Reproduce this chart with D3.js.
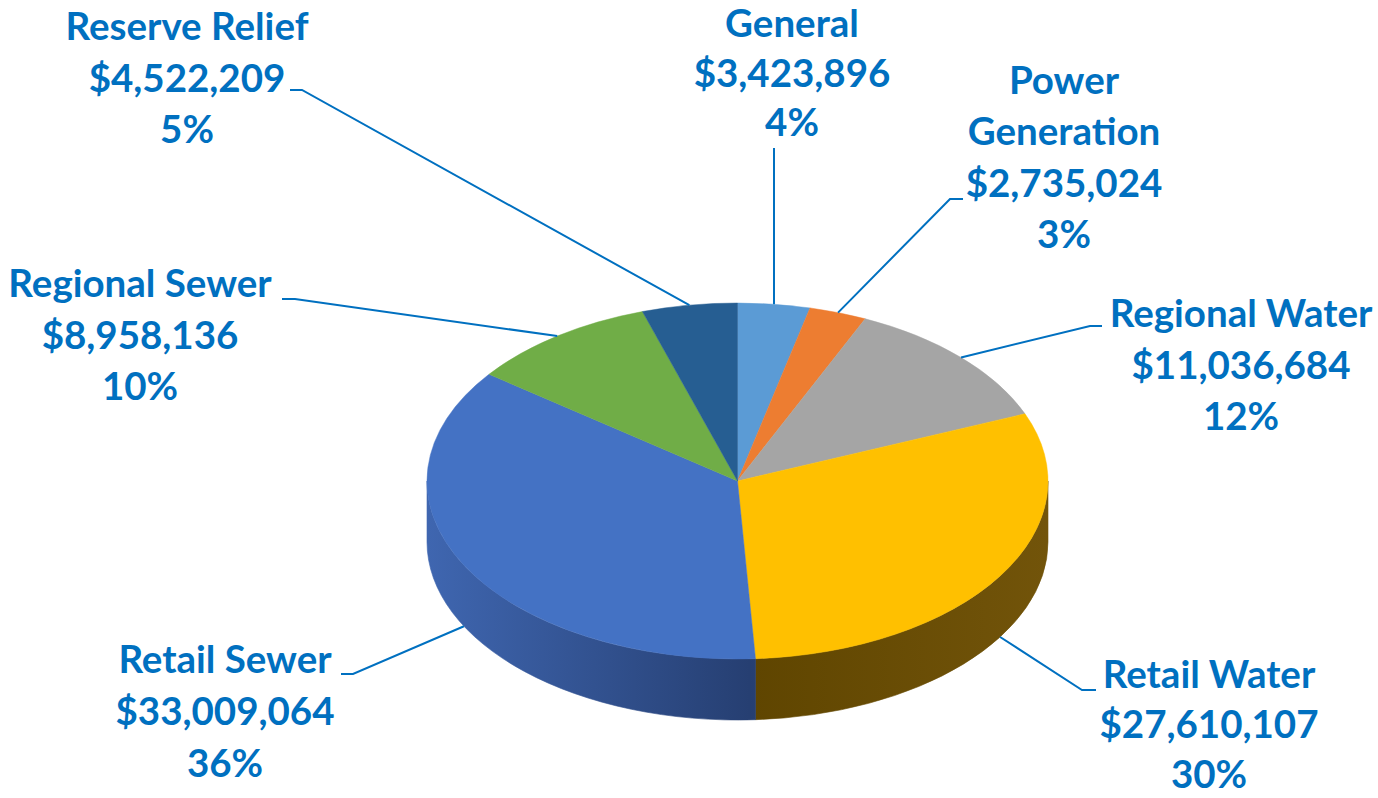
<!DOCTYPE html>
<html>
<head>
<meta charset="utf-8">
<script src="https://cdn.jsdelivr.net/npm/d3@7"></script>
<style>
    body { margin: 0; background: #ffffff; }
    svg { display: block; }
</style>
</head>
<body>
<script>

// budget by fund, clockwise from 12 o'clock
const categories = ['General', 'Power Generation', 'Regional Water', 'Retail Water', 'Retail Sewer', 'Regional Sewer', 'Reserve Relief']
const amounts = [3423896, 2735024, 11036684, 27610107, 33009064, 8958136, 4522209]

const topColours = ['#5B9BD5', '#ED7D31', '#A5A5A5', '#FFC000', '#4472C4', '#70AD47', '#265E92']
// side wall shading [lit, shadow]
const sideColours = [
    ['#3f6f99', '#2c4f6e'],
    ['#a85824', '#7a3f1a'],
    ['#777777', '#555555'],
    ['#72540a', '#5f4500'],
    ['#3f66b0', '#263f72'],
    ['#4f7a32', '#385724'],
    ['#1b4468', '#13314b']
]

const width = 1378
const height = 798
const textColour = '#0070C0'
const fontSize = 38.5

const pieShape = {cx: 737.5, cy: 481, rx: 310.5, ry: 178, depth: 61}

// where each label sits (first baseline, line gap) and how its leader bends
const labelSpots = [
    {x: 792, y: 37, gap: 49.5, split: false, elbow: [774, 148], tail: [774, 148]},
    {x: 1064, y: 94, gap: 51.3, split: true, elbow: [950, 199], tail: [963, 199]},
    {x: 1241, y: 327, gap: 51.5, split: false, elbow: [1090, 326], tail: [1102, 326]},
    {x: 1209, y: 688, gap: 50, split: false, elbow: [1082, 690], tail: [1096, 690]},
    {x: 225, y: 673, gap: 52, split: false, elbow: [353, 674], tail: [341, 674]},
    {x: 140, y: 297, gap: 51.5, split: false, elbow: [295, 299], tail: [282, 299]},
    {x: 187, y: 40, gap: 51.5, split: false, elbow: [302, 90], tail: [290, 90]}
]

const total = d3.sum(amounts)
const fmtMoney = d3.format('$,')
const fmtPct = d3.format('.0%')

const svg = d3.select('body')
    .append('svg')
    .attr('width', width)
    .attr('height', height)

const defs = svg.append('defs')

const slices = d3.pie()
    .sort(null)
    .value(d => d)(amounts)

function rimPoint(angle, drop){
    return [
        pieShape.cx + pieShape.rx * Math.sin(angle),
        pieShape.cy - pieShape.ry * Math.cos(angle) + (drop || 0)
    ]
}

// side walls, only the front half can be seen
sideColours.forEach((c, i) => {
    const grad = defs.append('linearGradient')
        .attr('id', 'side' + i)
        .attr('gradientUnits', 'userSpaceOnUse')
        .attr('x1', pieShape.cx - pieShape.rx).attr('y1', 0)
        .attr('x2', pieShape.cx + pieShape.rx).attr('y2', 0)
    grad.append('stop').attr('offset', 0).attr('stop-color', c[0])
    grad.append('stop').attr('offset', 0.52).attr('stop-color', c[1])
    grad.append('stop').attr('offset', 1).attr('stop-color', c[0])
})

const walls = svg.append('g').attr('class', 'walls')

walls.selectAll('path')
    .data(slices.filter(s => s.endAngle > Math.PI / 2 && s.startAngle < Math.PI * 1.5))
    .join('path')
    .attr('d', s => {
        const b0 = Math.max(s.startAngle, Math.PI / 2)
        const b1 = Math.min(s.endAngle, Math.PI * 1.5)
        const p0 = rimPoint(b0)
        const p1 = rimPoint(b1)
        const d = pieShape.depth
        const r = pieShape.rx + ',' + pieShape.ry
        return 'M' + p0 + 'A' + r + ' 0 0 1 ' + p1 +
            'L' + p1[0] + ',' + (p1[1] + d) +
            'A' + r + ' 0 0 0 ' + p0[0] + ',' + (p0[1] + d) + 'Z'
    })
    .attr('fill', s => 'url(#side' + s.index + ')')
    .attr('stroke', s => 'url(#side' + s.index + ')')
    .attr('stroke-width', 0.6)

// top faces: a circular arc squashed into the ellipse
const arc = d3.arc()
    .innerRadius(0)
    .outerRadius(pieShape.rx)

svg.append('g')
    .attr('class', 'tops')
    .attr('transform', 'translate(' + pieShape.cx + ',' + pieShape.cy + ') scale(1,' + (pieShape.ry / pieShape.rx) + ')')
    .selectAll('path')
    .data(slices)
    .join('path')
    .attr('d', arc)
    .attr('fill', s => topColours[s.index])
    .attr('stroke', s => topColours[s.index])
    .attr('stroke-width', 0.6)

// leaders
const leader = d3.line()

svg.append('g')
    .attr('class', 'leaders')
    .selectAll('path')
    .data(slices)
    .join('path')
    .attr('d', s => {
        const mid = (s.startAngle + s.endAngle) / 2
        const front = mid > Math.PI / 2 && mid < Math.PI * 1.5
        const spot = labelSpots[s.index]
        return leader([rimPoint(mid, front ? pieShape.depth : 0), spot.elbow, spot.tail])
    })
    .attr('fill', 'none')
    .attr('stroke', textColour)
    .attr('stroke-width', 2)

// labels
const labels = svg.append('g')
    .attr('class', 'labels')
    .style('font-family', 'Lato, "Open Sans", sans-serif')
    .style('font-weight', 700)
    .style('font-size', fontSize + 'px')
    .attr('fill', textColour)
    .attr('text-anchor', 'middle')

labels.selectAll('text')
    .data(slices)
    .join('text')
    .attr('x', s => labelSpots[s.index].x)
    .attr('y', s => labelSpots[s.index].y)
    .each(function(s){
        const spot = labelSpots[s.index]
        const name = categories[s.index]
        const lines = spot.split ? name.split(' ') : [name]
        lines.push(fmtMoney(s.value), fmtPct(s.value / total))

        d3.select(this).selectAll('tspan')
            .data(lines)
            .join('tspan')
            .attr('x', spot.x)
            .attr('dy', (d, i) => i === 0 ? 0 : spot.gap)
            .text(d => d)
    })

</script>
</body>
</html>
